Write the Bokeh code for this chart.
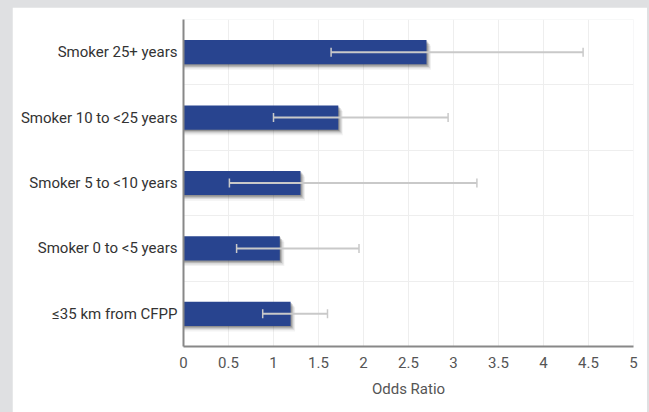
from bokeh.plotting import figure
from bokeh.models import (FixedTicker, NumeralTickFormatter, ColumnDataSource,
                          Whisker, TeeHead, Range1d)
from bokeh.transform import dodge
from bokeh.embed import file_html
from bokeh.resources import INLINE

categories = ["≤35 km from CFPP", "Smoker 0 to <5 years", "Smoker 5 to <10 years",
              "Smoker 10 to <25 years", "Smoker 25+ years"]
odds = [1.19, 1.07, 1.30, 1.72, 2.70]
ci_low = [0.88, 0.59, 0.51, 1.00, 1.64]
ci_high = [1.60, 1.95, 3.26, 2.94, 4.44]
x_ticks = [0, 0.5, 1, 1.5, 2, 2.5, 3, 3.5, 4, 4.5, 5]

pos = [i + 0.5 for i in range(len(categories))]
src = ColumnDataSource(dict(y=pos, odds=odds, lo=ci_low, hi=ci_high))

p = figure(width=635, height=405, output_backend="svg", toolbar_location=None,
           x_range=Range1d(0, 5), y_range=Range1d(0, len(categories)),
           min_border_left=171, min_border_right=14, min_border_top=12,
           min_border_bottom=66)
p.margin = (7, 2, 0, 12)
p.outline_line_color = None
p.background_fill_color = "white"
p.border_fill_color = "white"

FONT = "Roboto"
BAR_H = 0.37

# grid
p.xgrid.ticker = FixedTicker(ticks=x_ticks)
p.xgrid.grid_line_color = "#eeeeee"
p.ygrid.ticker = FixedTicker(ticks=list(range(len(categories) + 1)))
p.ygrid.grid_line_color = "#eeeeee"

# shadows
for dx, dy, a in [(0.012, 0.02, 0.25), (0.025, 0.04, 0.18), (0.04, 0.06, 0.11), (0.05, 0.085, 0.06)]:
    p.hbar(y=dodge("y", -dy, range=p.y_range), right=dodge("odds", dx, range=p.x_range),
           left=0, height=BAR_H, source=src, fill_color="#1a1a1a", fill_alpha=a,
           line_color=None)

p.hbar(y="y", right="odds", left=0, height=BAR_H, source=src,
       fill_color="#28448f", line_color=None)

w = Whisker(base="y", lower="lo", upper="hi", dimension="width", source=src,
            line_color="#c9c9c9", line_width=2, level="overlay",
            lower_head=TeeHead(size=9, line_color="#c9c9c9", line_width=1.5),
            upper_head=TeeHead(size=9, line_color="#c9c9c9", line_width=1.5))
p.add_layout(w)

# axes
xa = p.xaxis[0]
xa.ticker = FixedTicker(ticks=x_ticks)
xa.formatter = NumeralTickFormatter(format="0.[0]")
xa.major_tick_line_color = None
xa.minor_tick_line_color = None
xa.axis_line_color = "#888888"
xa.axis_line_width = 2
xa.major_label_text_font = FONT
xa.major_label_text_font_size = "15px"
xa.major_label_text_color = "#555555"
xa.major_label_standoff = 4
xa.axis_label = "Odds Ratio"
xa.axis_label_text_font = FONT
xa.axis_label_text_font_size = "15px"
xa.axis_label_text_font_style = "normal"
xa.axis_label_text_color = "#555555"
xa.axis_label_standoff = 9

ya = p.yaxis[0]
ya.ticker = FixedTicker(ticks=pos)
ya.major_label_overrides = {pv: c for pv, c in zip(pos, categories)}
ya.major_tick_line_color = None
ya.minor_tick_line_color = None
ya.axis_line_color = "#888888"
ya.axis_line_width = 2
ya.major_label_text_font = FONT
ya.major_label_text_font_size = "15px"
ya.major_label_text_color = "#333333"
ya.major_label_standoff = 0

html = file_html(p, INLINE)
html = html.replace("<head>", "<head><style>html,body{background:#dfe0e2;}</style>", 1)
open("out.html", "w").write(html)
